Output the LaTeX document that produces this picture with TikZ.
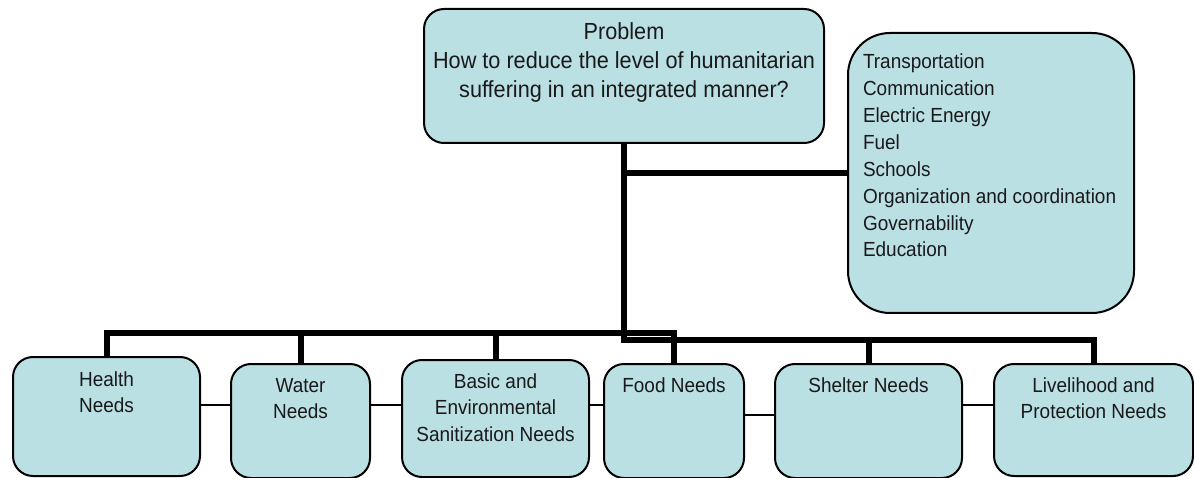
\documentclass[tikz,border=0pt]{standalone}
\usepackage{fontspec}
\setmainfont{Liberation Sans}[FakeStretch=0.93]
\definecolor{boxfill}{RGB}{187,224,227}
\definecolor{txt}{RGB}{25,25,25}
\newcommand\pfont{\fontsize{23.3pt}{29pt}\selectfont}
\newcommand\lfont{\fontsize{20.4pt}{26.9pt}\selectfont}
\newcommand\bfont{\fontsize{20.4pt}{26.5pt}\selectfont}
\tikzset{
  nbox/.style={draw=black, line width=2pt, fill=boxfill, text=txt, rounded corners=20pt, inner sep=0pt, anchor=north west},
  listbox/.style={nbox, rounded corners=42pt},
  thickline/.style={line width=6pt, line join=miter},
  thinline/.style={line width=1.6pt}
}
\begin{document}
\begin{tikzpicture}[x=1pt,y=-1pt]
\useasboundingbox[fill=white] (0,0) rectangle (1194,478);
% boxes
\node[nbox] (prob) at (423,8) {\parbox[c][134pt][t]{400pt}{\pfont\centering\rule{0pt}{31pt}Problem\\How to reduce the level of humanitarian\\suffering in an integrated manner?}};
\node[listbox] (list) at (847,32) {\parbox[c][280pt][t]{286pt}{\lfont\raggedright\leftskip=15pt\rule{0pt}{35.7pt}Transportation\\Communication\\Electric Energy\\Fuel\\Schools\\Organization and coordination\\Governability\\Education}};
\node[nbox] (health) at (12,356) {\parbox[c][119pt][t]{187pt}{\bfont\centering\rule{0pt}{29pt}Health\\Needs}};
\node[nbox] (water) at (230,363) {\parbox[c][114pt][t]{139pt}{\bfont\centering\rule{0pt}{28pt}Water\\Needs}};
\node[nbox] (basic) at (401,359) {\parbox[c][117pt][t]{187pt}{\bfont\centering\rule{0pt}{28pt}Basic and\\Environmental\\Sanitization Needs}};
\node[nbox] (food) at (603,363) {\parbox[c][114pt][t]{140pt}{\bfont\centering\rule{0pt}{28pt}Food Needs}};
\node[nbox] (shelter) at (774,363) {\parbox[c][114pt][t]{187pt}{\bfont\centering\rule{0pt}{28pt}Shelter Needs}};
\node[nbox] (liveli) at (993,363) {\parbox[c][112pt][t]{199pt}{\bfont\centering\rule{0pt}{28pt}Livelihood and\\Protection Needs}};
% helper levels
\coordinate (barA) at (0,333);
\coordinate (barB) at (0,340);
\coordinate (yA) at (0,405);
\coordinate (yB) at (0,415);
% thick connectors
\draw[thickline] (prob.south |- list.west) -- (list.west);
\draw[thickline] (health.north) -- (health.north |- barA) -- (food.north |- barA) -- (food.north);
\draw[thickline] (water.north |- barA) -- (water.north);
\draw[thickline] (basic.north |- barA) -- (basic.north);
\draw[thickline] (prob.south) -- (prob.south |- barB) -- (liveli.north |- barB) -- (liveli.north);
\draw[thickline] (shelter.north |- barB) -- (shelter.north);
% thin connectors
\draw[thinline] (health.east |- yA) -- (water.west |- yA);
\draw[thinline] (water.east |- yA) -- (basic.west |- yA);
\draw[thinline] (basic.east |- yA) -- (food.west |- yA);
\draw[thinline] (food.east |- yB) -- (shelter.west |- yB);
\draw[thinline] (shelter.east |- yA) -- (liveli.west |- yA);
\end{tikzpicture}
\end{document}
